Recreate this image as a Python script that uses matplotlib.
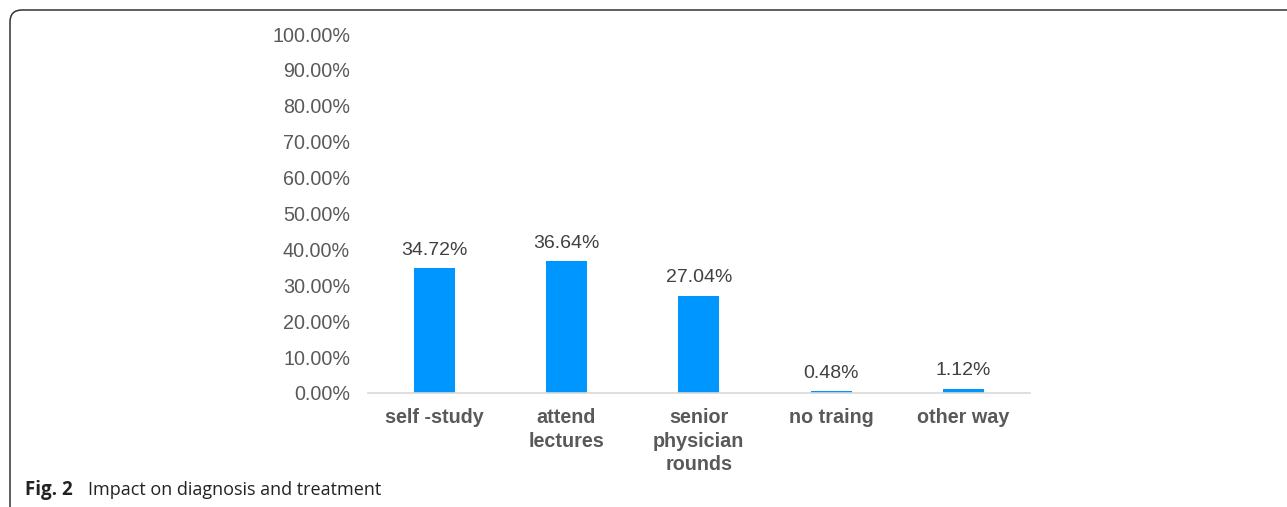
import matplotlib.pyplot as plt
from matplotlib.patches import FancyBboxPatch

categories = ['self -study', 'attend\nlectures', 'senior\nphysician\nrounds', 'no traing', 'other way']
values = [34.72, 36.64, 27.04, 0.48, 1.12]
yticks = [0, 10, 20, 30, 40, 50, 60, 70, 80, 90, 100]

plt.rcParams['font.family'] = ['Liberation Sans', 'DejaVu Sans']
grey = '#595959'

fig = plt.figure(figsize=(12.87, 5.07), dpi=100)
ax = fig.add_axes([0.286, 0.2249, 0.514, 0.708])

bars = ax.bar(range(len(categories)), values, width=0.31, color='#0096ff')
for bar, v in zip(bars, values):
    ax.annotate(f'{v:.2f}%', (bar.get_x() + bar.get_width() / 2, v),
                xytext=(0, 7), textcoords='offset points', ha='center', va='bottom',
                fontsize=14, color='#404040')

ax.set_xlim(-0.5, len(categories) - 0.5)
ax.set_ylim(0, 100)
ax.set_yticks(yticks)
ax.set_yticklabels([f'{t:.2f}%' for t in yticks], fontsize=14.2, color=grey)
ax.set_xticks(range(len(categories)))
ax.set_xticklabels(categories, fontsize=14.2, fontweight='bold', color=grey, linespacing=1.3)
ax.tick_params(axis='both', length=0)
ax.tick_params(axis='y', pad=13)
ax.tick_params(axis='x', pad=11)
for side in ['top', 'right', 'left']:
    ax.spines[side].set_visible(False)
ax.spines['bottom'].set_color('#d9d9d9')
ax.spines['bottom'].set_linewidth(1.2)

# outer frame with rounded top-left corner, running off the right and bottom edges
frame = FancyBboxPatch((10, -60), 1400, 497 + 60, boxstyle='round,pad=0,rounding_size=12',
                       transform=None, facecolor='none', edgecolor='#333333', linewidth=1.1)
fig.patches.append(frame)

fig.text(25 / 1287, 1 - 490 / 507, 'Fig. 2', fontsize=13.5, fontweight='bold', color='#222222',
         va='center', family=['Open Sans', 'DejaVu Sans'])
fig.text(88 / 1287, 1 - 490 / 507, 'Impact on diagnosis and treatment', fontsize=13, color='#222222',
         va='center', family=['Open Sans', 'DejaVu Sans'])

fig.savefig('out.png', dpi=100)
